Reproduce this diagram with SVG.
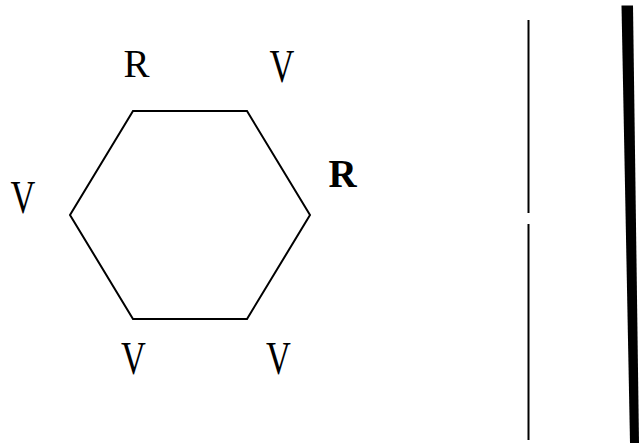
<svg xmlns="http://www.w3.org/2000/svg" width="639" height="446" viewBox="0 0 639 446">
<style>
.lbl{font-family:"Liberation Serif","Times New Roman",serif;fill:#000;text-anchor:middle}
.r{font-size:39px}
.v{font-size:40px}
.b{font-weight:bold}
.edge{fill:none;stroke:#000;stroke-width:2}
</style>
<rect width="639" height="446" fill="#fff"/>
<g id="hexagon">
<polygon class="edge" points="133,111 247,111 310,215 247,319 133,319 70,215"/>
</g>
<g id="labels">
<g id="label-top-left"><text class="lbl r" x="136.5" y="77">R</text></g>
<g id="label-top-right"><text class="lbl v" transform="translate(282,81.5) scale(0.86,1.14)">V</text></g>
<g id="label-right"><text class="lbl r b" x="342.5" y="187">R</text></g>
<g id="label-left"><text class="lbl v" transform="translate(23,213) scale(0.86,1.14)">V</text></g>
<g id="label-bottom-left"><text class="lbl v" transform="translate(133.5,374) scale(0.86,1.14)">V</text></g>
<g id="label-bottom-right"><text class="lbl v" transform="translate(278.5,374) scale(0.86,1.14)">V</text></g>
</g>
<g id="connectors">
<line x1="528.5" y1="20" x2="528.5" y2="213" stroke="#000" stroke-width="2"/>
<line x1="528.5" y1="224" x2="528.5" y2="440" stroke="#000" stroke-width="2"/>
<polygon points="621.5,5.5 633,5.5 639,443 630,443" fill="#000"/>
</g>
</svg>
